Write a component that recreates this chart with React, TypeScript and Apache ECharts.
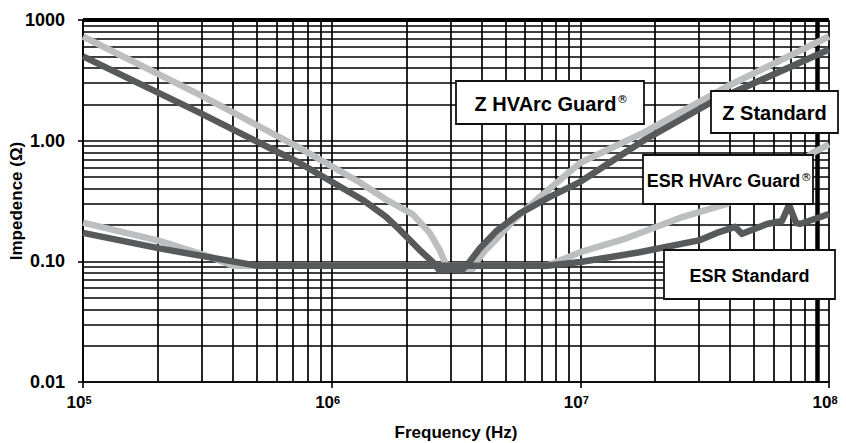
import React, { useEffect, useRef } from 'react';
import * as echarts from 'echarts';

const FONT = '"Liberation Sans", Arial, Helvetica, sans-serif';
const LIGHT = '#bdbec0';
const DARK = '#58595b';

// [frequency Hz, impedance Ω]
const zHVArcGuard: [number, number][] = [
  [1e5, 7.3], [2.94e5, 2.41], [7.4e5, 0.875], [1.3e6, 0.45], [1.66e6, 0.324], [2.12e6, 0.245],
  [2.48e6, 0.172], [2.72e6, 0.124], [2.85e6, 0.0986], [3.0e6, 0.087], [3.7e6, 0.087],
  [3.83e6, 0.099], [4.1e6, 0.12], [4.44e6, 0.142], [5.35e6, 0.215], [6.87e6, 0.342], [1.0e7, 0.656],
  [1.79e7, 1.16], [3.89e7, 2.81], [1e8, 7.3],
];
const zStandard: [number, number][] = [
  [1e5, 5.0], [2.94e5, 1.71], [7.4e5, 0.656], [1.33e6, 0.324], [1.65e6, 0.235], [1.88e6, 0.182],
  [2.26e6, 0.124], [2.55e6, 0.0986], [2.7e6, 0.085], [3.35e6, 0.085], [3.6e6, 0.1], [3.94e6, 0.128],
  [4.62e6, 0.18], [5.71e6, 0.25], [7.5e6, 0.34], [1.0e7, 0.456], [1.79e7, 1.0], [3.35e7, 2.07], [1e8, 5.7],
];
const esrHVArcGuard: [number, number][] = [
  [1e5, 0.209], [2.03e5, 0.148], [3.2e5, 0.11], [4.0e5, 0.092], [7.33e6, 0.092], [1.0e7, 0.119],
  [1.54e7, 0.156], [2.51e7, 0.229], [3.88e7, 0.299], [6.35e7, 0.5], [8.61e7, 0.794], [1e8, 0.93],
];
const esrStandard: [number, number][] = [
  [1e5, 0.172], [2.03e5, 0.128], [5.0e5, 0.092], [7.33e6, 0.092], [1.0e7, 0.0987],
  [1.73e7, 0.119], [3.03e7, 0.15], [3.54e7, 0.172], [4.19e7, 0.193], [4.47e7, 0.169],
  [5.63e7, 0.204], [6.47e7, 0.216], [6.91e7, 0.294], [7.37e7, 0.208], [7.64e7, 0.204], [1e8, 0.247],
];

const yTickLabels: Record<string, string> = { '-2': '0.01', '-1': '0.10', '0': '1.00', '1': '1000' };
const xDecades = [1e5, 1e6, 1e7];
const yDecades = [0.01, 0.1, 1];
const minorSteps = [2, 3, 4, 5, 6, 7, 8, 9];

const labelBoxes = [
  { x: 456, y: 81, w: 188, h: 43, text: 'Z HVArc Guard', sup: true, size: 20 },
  { x: 711, y: 91, w: 127, h: 42, text: 'Z Standard', sup: false, size: 20 },
  { x: 643, y: 155, w: 170, h: 49, text: 'ESR HVArc Guard', sup: true, size: 18 },
  { x: 664, y: 250, w: 171, h: 49, text: 'ESR Standard', sup: false, size: 18 },
];

export default function App() {
  const ref = useRef<HTMLDivElement>(null);
  useEffect(() => {
    const chart = echarts.init(ref.current!, null, { renderer: 'svg' });
    const gridData: any[] = [];
    xDecades.forEach((d) =>
      minorSteps.forEach((k) => {
        const v = k * d;
        if (d === 1e7 && k === 9) gridData.push({ xAxis: v, lineStyle: { width: 4.5 } });
        else gridData.push({ xAxis: v });
      })
    );
    yDecades.forEach((d) => minorSteps.forEach((k) => gridData.push({ yAxis: k * d })));
    gridData.push({ yAxis: 10, lineStyle: { width: 4 } });

    const lineSeries = (data: [number, number][], color: string, extra: any = {}) => ({
      type: 'line',
      data,
      symbol: 'none',
      showSymbol: false,
      smooth: false,
      z: 3,
      lineStyle: { color, width: 6.5, join: 'round' },
      emphasis: { disabled: true },
      ...extra,
    });

    const graphic: any[] = [];
    labelBoxes.forEach((b) => {
      graphic.push({
        type: 'rect',
        shape: { x: b.x, y: b.y, width: b.w, height: b.h },
        style: { fill: '#fff', stroke: '#111', lineWidth: 1.8 },
        z: 100,
      });
      const mainFont = `bold ${b.size}px ${FONT}`;
      const textW = (echarts.format as any).getTextRect
        ? (echarts.format as any).getTextRect(b.text, mainFont).width
        : b.text.length * b.size * 0.6;
      const supW = b.sup ? 9 : 0;
      const startX = b.x + b.w / 2 - (textW + supW) / 2;
      graphic.push({
        type: 'text',
        x: startX,
        y: b.y + b.h / 2 + 1,
        z: 101,
        style: {
          text: b.text,
          font: mainFont,
          align: 'left',
          verticalAlign: 'middle',
          fill: '#000',
        },
      });
      if (b.sup) {
        graphic.push({
          type: 'text',
          x: startX + textW + 0.5,
          y: b.y + b.h / 2 - b.size * 0.42,
          z: 101,
          style: {
            text: '\u00AE\uFE0E',
            font: `11px "DejaVu Sans"`,
            align: 'left',
            verticalAlign: 'top',
            fill: '#000',
          },
        });
      }
    });

    const option: any = {
      animation: false,
      backgroundColor: '#fff',
      grid: { left: 83, right: 17, top: 20, bottom: 61, containLabel: false, outerBoundsMode: 'none' },
      xAxis: {
        type: 'log',
        logBase: 10,
        min: 1e5,
        max: 1e8,
        name: 'Frequency (Hz)',
        nameLocation: 'middle',
        nameGap: 42,
        nameMoveOverlap: false,
        nameTextStyle: { fontFamily: FONT, fontSize: 17, fontWeight: 'bold', color: '#000' },
        axisLine: { lineStyle: { color: '#000', width: 1.6 } },
        axisTick: { show: true, length: 6, lineStyle: { color: '#000', width: 1.6 } },
        axisLabel: {
          margin: 12,
          padding: [0, 8, 0, 0],
          formatter: (v: number) => `{b|10}{s|${Math.round(Math.log10(v))}}`,
          rich: {
            b: { fontFamily: FONT, fontSize: 17, fontWeight: 'bold', color: '#000' },
            s: { fontFamily: FONT, fontSize: 11, fontWeight: 'bold', color: '#000', verticalAlign: 'top' },
          },
        },
        splitLine: { show: true, lineStyle: { color: '#000', width: 1.7 } },
      },
      yAxis: {
        type: 'log',
        logBase: 10,
        min: 0.01,
        max: 10,
        name: 'Impedence (Ω)',
        nameLocation: 'middle',
        nameGap: 58,
        nameMoveOverlap: false,
        nameTextStyle: { fontFamily: FONT, fontSize: 17, fontWeight: 'bold', color: '#000' },
        axisLine: { show: true, lineStyle: { color: '#000', width: 1.6 } },
        axisTick: { show: true, length: 5, lineStyle: { color: '#000', width: 1.6 } },
        axisLabel: {
          margin: 12,
          padding: [0, 6, 0, 0],
          fontFamily: FONT,
          fontSize: 18,
          fontWeight: 'bold',
          color: '#000',
          formatter: (v: number) => yTickLabels[String(Math.round(Math.log10(v)))] ?? '',
        },
        splitLine: { show: true, lineStyle: { color: '#000', width: 1.7 } },
      },
      series: [
        lineSeries(zHVArcGuard, LIGHT),
        lineSeries(esrHVArcGuard, LIGHT, {
          markLine: {
            z: 1,
            silent: true,
            symbol: ['none', 'none'],
            label: { show: false },
            emphasis: { disabled: true },
            lineStyle: { color: '#000', width: 1.7, type: 'solid', opacity: 1 },
            data: gridData,
          },
        }),
        lineSeries(zStandard, DARK),
        lineSeries(esrStandard, DARK),
      ],
      graphic,
    };
    chart.setOption(option);
    return () => chart.dispose();
  }, []);
  return (
    <div
      ref={ref}
      style={{ position: 'fixed', left: 0, top: 0, width: 846, height: 443, background: '#fff' }}
    />
  );
}
